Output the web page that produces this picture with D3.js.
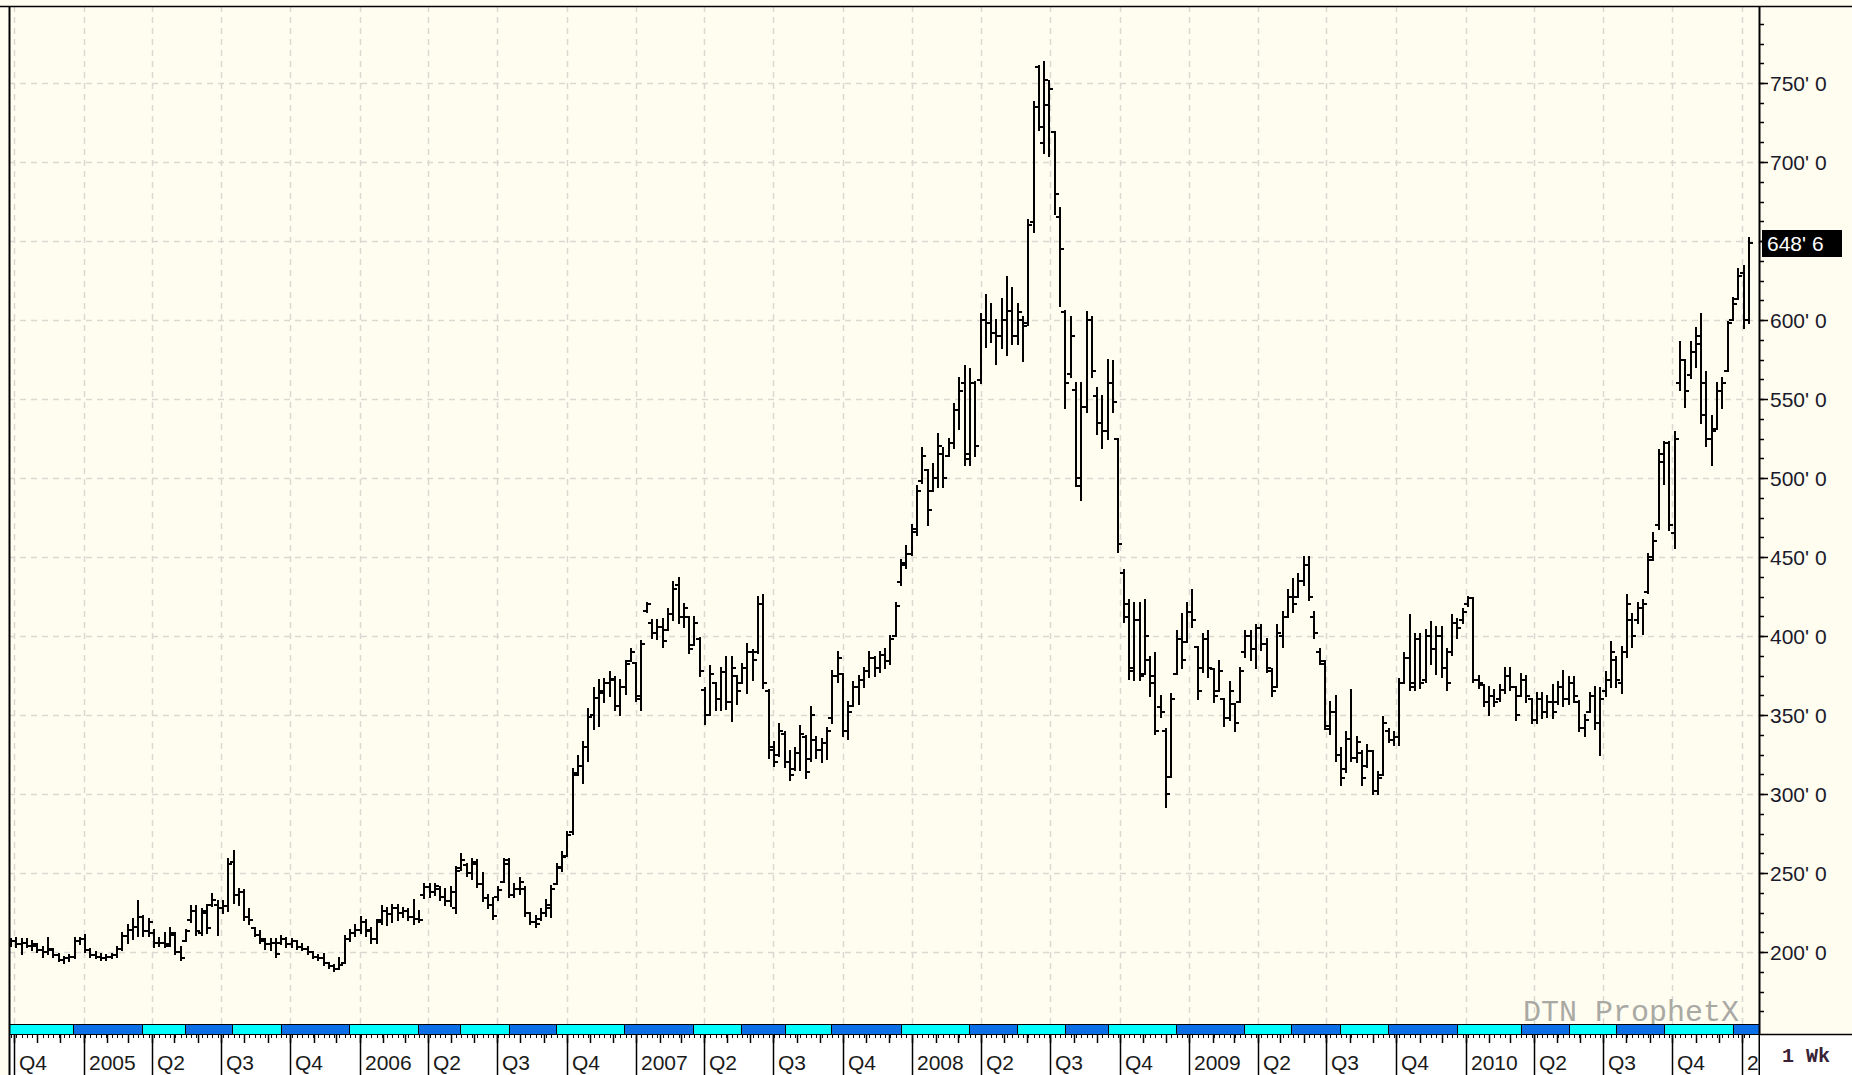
<!DOCTYPE html>
<html>
<head>
<meta charset="utf-8">
<script src="https://cdn.jsdelivr.net/npm/d3@7"></script>
<style>
  html, body { margin: 0; padding: 0; background: #fffcf0; }
  svg { display: block; }
</style>
</head>
<body>
<div id="chart"></div>
<script>
// Weekly corn continuation bars, one per week starting Mon 27 Sep 2004 (cents/bu)
var firstWeek = "2004-09-27";

var opens = [
  205,207,205,206,204,204,201,200,201,198,195,196,197,207,            // Q4 04
  208,201,198,197,196,197,198,202,210,214,216,222,213,                // Q1 05
  212,206,206,205,211,200,207,220,226,212,225,230,230,
  228,229,257,236,238,222,215,211,207,205,206,206,208,
  205,207,203,202,200,197,196,193,191,189,193,208,212,
  214,219,213,208,220,226,224,228,225,226,222,221,236,                // Q1 06
  241,238,240,235,232,228,253,255,250,256,243,234,230,
  235,244,258,236,240,240,225,219,221,225,228,243,253,
  261,276,313,318,330,350,361,365,370,372,356,368,384,
  383,360,416,408,402,406,404,414,432,412,412,394,398,                // Q1 07
  366,350,370,360,377,358,375,370,380,390,390,420,365,
  330,325,338,320,316,326,336,322,334,328,332,348,375,
  376,340,356,368,372,378,386,380,388,384,400,434,445,452,
  466,498,505,492,500,515,514,522,543,560,515,560,562,                // Q1 08
  600,598,592,590,600,606,590,600,598,662,760,712,736,
  719,665,605,566,556,495,545,600,552,535,530,560,525,
  440,420,378,410,376,385,375,355,340,311,376,398,396,
  415,393,380,398,379,365,360,348,357,358,390,400,392,                // Q1 09
  405,395,378,368,400,412,425,425,435,445,412,390,382,
  341,352,325,316,335,323,326,318,327,302,312,340,334,
  336,370,386,368,398,372,400,392,400,380,390,408,410,
  420,424,372,369,358,362,360,366,375,368,362,372,360,                // Q1 10
  347,360,352,358,358,368,360,370,358,342,352,362,345,
  365,372,385,370,390,410,410,418,428,450,470,510,522,
  465,560,575,565,580,590,560,525,531,555,568,600,613,
  630,600                                                             // Jan 11
];
var highs = [
  208,209,208,208,207,205,203,209,202,199,197,198,209,209,
  211,202,200,199,198,199,203,212,217,221,232,223,221,
  214,209,212,215,212,203,214,229,229,227,230,237,232,
  232,259,264,240,239,227,215,213,208,208,208,210,209,
  208,207,205,203,200,198,199,193,192,196,210,214,217,
  222,220,215,220,229,228,230,230,228,227,233,226,243,
  243,243,241,240,241,254,262,256,259,258,250,236,234,
  241,259,259,243,247,241,225,223,227,233,242,256,263,
  276,316,324,333,354,367,372,373,377,374,372,384,392,
  383,397,421,410,410,411,417,434,437,420,412,412,399,
  367,381,370,380,387,387,375,382,395,391,425,426,366,
  333,344,339,327,329,343,337,355,336,335,342,378,390,
  376,358,371,375,380,390,387,390,392,400,421,448,457,470,
  495,519,505,509,528,519,525,547,563,571,569,561,604,
  616,610,600,613,627,620,610,602,663,738,761,763,751,
  719,671,606,602,560,560,605,602,557,552,575,574,525,
  442,423,421,421,423,387,389,362,341,363,403,414,421,
  429,393,401,403,379,384,360,371,357,380,403,403,407,
  407,398,379,407,415,429,436,439,450,450,415,392,384,
  358,362,329,339,366,336,327,331,327,314,349,341,339,
  373,389,413,401,401,404,409,406,406,392,413,411,417,
  425,424,375,369,368,366,369,380,380,368,376,375,360,
  364,364,362,369,371,378,374,374,359,350,364,368,367,
  377,396,387,393,426,414,421,423,452,465,518,523,523,
  529,586,575,586,595,604,567,539,560,563,599,614,632,
  634,652
];
var lows = [
  204,203,199,203,201,200,197,199,197,194,193,194,196,205,
  200,197,196,195,195,196,197,201,206,208,210,210,210,
  203,204,203,204,199,195,207,219,211,211,212,229,211,
  225,226,231,230,220,218,210,206,202,201,197,205,203,
  203,202,201,199,196,195,192,190,188,189,193,207,210,
  212,210,206,206,218,217,219,220,222,220,218,219,234,
  235,236,233,230,229,225,252,248,246,241,232,228,221,
  233,244,235,235,237,223,218,216,220,223,222,243,251,
  261,275,312,307,321,341,343,358,362,353,350,363,384,
  359,353,415,399,398,393,404,410,408,406,389,394,375,
  344,350,353,353,354,346,357,370,364,372,389,367,323,
  318,324,317,309,315,315,310,321,323,320,322,345,371,
  337,335,356,357,368,374,375,377,380,382,400,432,443,451,
  464,497,470,492,494,494,514,519,531,508,508,514,560,
  583,586,572,582,578,585,585,574,597,656,720,706,704,
  667,609,544,564,495,486,542,564,528,519,525,542,453,
  409,373,372,372,376,362,338,349,292,311,376,380,396,
  406,360,377,374,358,365,343,347,340,358,387,385,380,
  391,377,362,368,393,412,415,425,432,423,399,382,341,
  338,321,306,314,321,320,306,317,300,300,312,333,331,
  331,370,366,366,367,371,382,376,374,366,388,399,408,
  419,371,367,356,350,356,359,364,366,347,362,358,345,
  345,348,349,348,357,356,357,358,340,337,352,341,325,
  362,368,368,364,387,393,408,401,427,448,468,496,467,
  456,556,545,563,570,535,520,508,531,544,568,600,613,
  595,598
];
var closes = [
  207,205,206,204,205,201,200,202,198,195,196,197,207,208,
  201,198,197,196,197,198,202,210,214,216,222,213,219,
  206,206,204,212,200,196,213,226,213,226,215,233,228,
  229,256,236,238,222,220,211,208,205,206,199,208,205,
  207,203,202,200,197,196,193,191,189,192,208,212,214,
  219,214,208,219,226,224,228,225,226,222,221,220,241,
  238,242,235,232,238,251,258,250,257,243,234,230,223,
  239,256,236,240,244,225,219,218,225,230,240,254,260,
  274,312,318,330,349,361,364,370,373,356,368,382,390,
  362,395,420,402,406,397,414,430,412,418,392,408,378,
  350,376,360,377,358,380,365,380,390,385,420,370,328,
  320,340,320,312,326,338,314,350,328,332,340,375,386,
  340,352,368,372,378,386,380,388,384,398,419,446,452,468,
  492,514,480,500,520,500,522,543,555,512,560,520,600,
  598,592,590,600,606,590,605,596,660,735,722,752,746,
  680,645,560,590,500,545,600,568,535,530,560,548,458,
  412,380,410,375,400,370,340,352,300,360,398,385,415,
  410,365,398,380,362,378,348,365,345,378,400,392,405,
  395,380,365,402,412,425,420,435,445,425,402,384,343,
  352,325,310,335,323,333,310,327,302,310,345,334,336,
  370,386,370,398,370,400,392,400,380,370,408,405,415,
  424,372,370,358,362,358,366,375,368,350,372,362,347,
  360,352,358,352,368,360,370,362,342,347,362,345,360,
  372,390,372,390,420,400,418,420,448,460,515,522,470,
  525,575,555,580,585,540,525,530,555,560,598,610,628,
  600,648.75
];

// contract roll dates for the colour band under the chart
var rolls = [
  "2004-12-18","2005-03-19","2005-05-15","2005-07-16","2005-09-19",
  "2005-12-18","2006-03-19","2006-05-13","2006-07-17","2006-09-17",
  "2006-12-16","2007-03-17","2007-05-20","2007-07-16","2007-09-16",
  "2007-12-17","2008-03-16","2008-05-18","2008-07-21","2008-09-15",
  "2008-12-14","2009-03-14","2009-05-15","2009-07-19","2009-09-20",
  "2009-12-20","2010-03-15","2010-05-17","2010-07-18","2010-09-20",
  "2010-12-20"
];

var priceTicks = [200, 250, 300, 350, 400, 450, 500, 550, 600, 650, 700, 750];
var lastPrice = 648.75;

// GLOBAL CONFIGS
var w = 1852, h = 1075;
var pl = 9, pt = 6, pr = 1759;      // plot box
var bandTop = 1024, bandBot = 1034;
var cream = "#fffcf0";
var gridColor = "#d9d9d2";
var font = "'Liberation Sans', Arial, sans-serif";

var parse = d3.timeParse("%Y-%m-%d");
var start = parse(firstWeek);

var bars = opens.map(function(o, i) {
  return {
    date: d3.timeDay.offset(start, 7 * i),
    o: o, h: highs[i], l: lows[i], c: closes[i]
  };
});

var x = d3.scaleTime()
  .domain([new Date(2004, 9, 1), new Date(2011, 0, 1)])
  .range([14, 1742]);
var y = d3.scaleLinear()
  .domain([200, 750])
  .range([952, 83]);

var svg = d3.select("#chart")
  .append("svg")
  .attr("width", w)
  .attr("height", h);

svg.append("rect").attr("width", w).attr("height", h).attr("fill", cream);

var defs = svg.append("defs");
defs.append("clipPath").attr("id", "plotClip")
  .append("rect").attr("x", pl).attr("y", pt).attr("width", pr - pl).attr("height", bandTop - pt);

var quarters = d3.timeMonth.every(3).range(new Date(2004, 9, 1), new Date(2011, 0, 2));

// Grid
var grid = svg.append("g").attr("clip-path", "url(#plotClip)");
grid.selectAll("line.hg")
  .data(priceTicks)
  .enter()
  .append("line")
  .attr("x1", pl).attr("x2", pr)
  .attr("y1", function(d) { return Math.round(y(d)) + 0.5; })
  .attr("y2", function(d) { return Math.round(y(d)) + 0.5; })
  .attr("stroke", gridColor)
  .attr("stroke-width", 1.5)
  .attr("stroke-dasharray", "6,5");
grid.selectAll("line.vg")
  .data(quarters)
  .enter()
  .append("line")
  .attr("x1", function(d) { return Math.round(x(d)) + 0.5; })
  .attr("x2", function(d) { return Math.round(x(d)) + 0.5; })
  .attr("y1", pt).attr("y2", bandTop)
  .attr("stroke", gridColor)
  .attr("stroke-width", 1.5)
  .attr("stroke-dasharray", "6,5");

// Watermark
svg.append("text")
  .text("DTN ProphetX")
  .attr("x", 1739)
  .attr("y", 1021)
  .attr("text-anchor", "end")
  .attr("font-family", "'Liberation Mono', 'Courier New', monospace")
  .attr("font-size", 30)
  .attr("fill", "#a9a9a4");

// OHLC bars
svg.append("g")
  .attr("clip-path", "url(#plotClip)")
  .selectAll("path")
  .data(bars)
  .enter()
  .append("path")
  .attr("d", function(d) {
    var bx = Math.round(x(d.date));
    var yo = Math.round(y(d.o)), yc = Math.round(y(d.c));
    return "M" + bx + "," + (Math.round(y(d.h)) - 1) + "V" + (Math.round(y(d.l)) + 1) +
      "M" + (bx - 4) + "," + yo + "H" + bx +
      "M" + bx + "," + yc + "H" + (bx + 4);
  })
  .attr("fill", "none")
  .attr("stroke", "#000")
  .attr("stroke-width", 2);

// Contract band
var rollDates = rolls.map(parse);
var edges = [x.invert(pl)].concat(rollDates).concat([x.invert(pr)]);
var segs = d3.pairs(edges);
svg.selectAll("rect.band")
  .data(segs)
  .enter()
  .append("rect")
  .attr("x", function(d) { return Math.round(x(d[0])) + 0.5; })
  .attr("y", bandTop + 0.5)
  .attr("width", function(d) { return Math.round(x(d[1])) - Math.round(x(d[0])); })
  .attr("height", bandBot - bandTop)
  .attr("fill", function(d, i) { return i % 2 == 0 ? "#00ffff" : "#0b6fe8"; })
  .attr("stroke", "#000")
  .attr("stroke-width", 1);

// Time axis strip
svg.append("rect")
  .attr("x", pl).attr("y", bandBot + 1)
  .attr("width", pr - pl).attr("height", h - bandBot - 1)
  .attr("fill", "#ffffff");

var axisG = svg.append("g");
axisG.selectAll("line.wk")
  .data(bars)
  .enter()
  .append("line")
  .attr("x1", function(d) { return Math.round(x(d.date)) + 0.5; })
  .attr("x2", function(d) { return Math.round(x(d.date)) + 0.5; })
  .attr("y1", bandBot).attr("y2", bandBot + 4)
  .attr("stroke", "#000").attr("stroke-width", 1);
axisG.selectAll("line.mo")
  .data(d3.timeMonth.range(new Date(2004, 9, 1), new Date(2011, 1, 1)))
  .enter()
  .append("line")
  .attr("x1", function(d) { return Math.round(x(d)) + 0.5; })
  .attr("x2", function(d) { return Math.round(x(d)) + 0.5; })
  .attr("y1", bandBot).attr("y2", bandBot + 9)
  .attr("stroke", "#000").attr("stroke-width", 1.5);
axisG.selectAll("line.qt")
  .data(quarters)
  .enter()
  .append("line")
  .attr("x1", function(d) { return Math.round(x(d)) + 0.5; })
  .attr("x2", function(d) { return Math.round(x(d)) + 0.5; })
  .attr("y1", bandBot).attr("y2", h)
  .attr("stroke", "#000").attr("stroke-width", 1.5);
axisG.selectAll("text")
  .data(quarters)
  .enter()
  .append("text")
  .text(function(d) {
    var m = d.getMonth();
    return m == 0 ? String(d.getFullYear()) : "Q" + (m / 3 + 1);
  })
  .attr("x", function(d) { return Math.round(x(d)) + 5; })
  .attr("y", 1070)
  .attr("font-family", font)
  .attr("font-size", 21)
  .attr("fill", "#1a1a1a")
  .each(function() {
    // cut labels that run into the price axis, as the terminal does
    var t = d3.select(this);
    var s = t.text();
    while (s.length > 1 && +t.attr("x") + this.getComputedTextLength() > pr - 1) {
      s = s.slice(0, -1);
      t.text(s);
    }
  });

// Right price axis
var ax = svg.append("g");
ax.selectAll("line.minor")
  .data(d3.range(162.5, 800, 12.5))
  .enter()
  .append("line")
  .attr("x1", pr).attr("x2", pr + 5)
  .attr("y1", function(d) { return Math.round(y(d)) + 0.5; })
  .attr("y2", function(d) { return Math.round(y(d)) + 0.5; })
  .attr("stroke", "#000").attr("stroke-width", 1.5);
ax.selectAll("line.major")
  .data(priceTicks)
  .enter()
  .append("line")
  .attr("x1", pr).attr("x2", pr + 9)
  .attr("y1", function(d) { return Math.round(y(d)) + 0.5; })
  .attr("y2", function(d) { return Math.round(y(d)) + 0.5; })
  .attr("stroke", "#000").attr("stroke-width", 1.5);
ax.selectAll("text")
  .data(priceTicks)
  .enter()
  .append("text")
  .text(function(d) { return d + "' 0"; })
  .attr("x", pr + 11)
  .attr("y", function(d) { return y(d); })
  .attr("dy", "0.36em")
  .attr("font-family", font)
  .attr("font-size", 21)
  .attr("fill", "#1a1a2a");

// Last price marker
var ly = Math.round(y(lastPrice));
ax.append("rect")
  .attr("x", pr + 3).attr("y", ly - 13)
  .attr("width", 80).attr("height", 27)
  .attr("fill", "#000");
ax.append("text")
  .text(Math.floor(lastPrice) + "' " + Math.round((lastPrice % 1) * 8))
  .attr("x", pr + 8)
  .attr("y", ly)
  .attr("dy", "0.36em")
  .attr("font-family", font)
  .attr("font-size", 21)
  .attr("fill", "#fff");

// Frame lines
svg.append("line").attr("x1", 0).attr("x2", w).attr("y1", pt + 0.5).attr("y2", pt + 0.5)
  .attr("stroke", "#000").attr("stroke-width", 1.5);
svg.append("line").attr("x1", pl + 0.5).attr("x2", pl + 0.5).attr("y1", pt).attr("y2", h)
  .attr("stroke", "#000").attr("stroke-width", 2);
svg.append("line").attr("x1", pr + 0.5).attr("x2", pr + 0.5).attr("y1", pt).attr("y2", h)
  .attr("stroke", "#000").attr("stroke-width", 2);

// Period box
svg.append("rect")
  .attr("x", pr + 1).attr("y", bandBot + 1)
  .attr("width", w - pr - 1).attr("height", h - bandBot - 1)
  .attr("fill", "#ffffff");
svg.append("line").attr("x1", pr).attr("x2", w).attr("y1", bandBot + 0.5).attr("y2", bandBot + 0.5)
  .attr("stroke", "#000").attr("stroke-width", 1.5);
svg.append("text")
  .text("1 Wk")
  .attr("x", 1806)
  .attr("y", 1062)
  .attr("text-anchor", "middle")
  .attr("font-family", "'Liberation Mono', 'Courier New', monospace")
  .attr("font-weight", "bold")
  .attr("font-size", 20)
  .attr("fill", "#3a2236");
</script>
</body>
</html>
